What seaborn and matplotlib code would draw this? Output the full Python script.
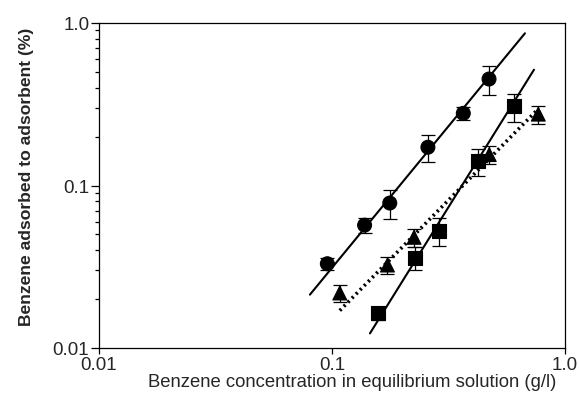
import numpy as np
import pandas as pd
import matplotlib
matplotlib.use("Agg")
import matplotlib.pyplot as plt
import seaborn as sns
from matplotlib.ticker import FixedLocator, FixedFormatter, NullFormatter

# ---- data ----
circle_x = [0.0955, 0.138, 0.177, 0.258, 0.366, 0.472]
circle_y = [0.033, 0.057, 0.078, 0.172, 0.278, 0.452]
circle_err = [0.003, 0.006, 0.016, 0.033, 0.025, 0.09]

square_x = [0.158, 0.2265, 0.289, 0.422, 0.606]
square_y = [0.0164, 0.036, 0.0527, 0.141, 0.307]
square_err = [0.0015, 0.006, 0.010, 0.027, 0.06]

triangle_x = [0.108, 0.173, 0.225, 0.473, 0.768]
triangle_y = [0.0218, 0.0324, 0.048, 0.155, 0.275]
triangle_err = [0.0027, 0.004, 0.006, 0.02, 0.035]

# fitted lines (end points)
circle_fit_x = [0.0804, 0.673]
circle_fit_y = [0.0213, 0.864]
square_fit_x = [0.1455, 0.736]
square_fit_y = [0.0123, 0.516]
triangle_fit_x = [0.108, 0.768]
triangle_fit_y = [0.017, 0.296]

x_ticks = [0.01, 0.1, 1.0]
x_tick_labels = ["0.01", "0.1", "1.0"]
y_ticks = [0.01, 0.1, 1.0]
y_tick_labels = ["0.01", "0.1", "1.0"]

x_label = "Benzene concentration in equilibrium solution (g/l)"
y_label = "Benzene adsorbed to adsorbent (%)"

# ---- build tables ----
pts = pd.concat([
    pd.DataFrame({"x": circle_x, "y": circle_y, "err": circle_err, "series": "circle"}),
    pd.DataFrame({"x": square_x, "y": square_y, "err": square_err, "series": "square"}),
    pd.DataFrame({"x": triangle_x, "y": triangle_y, "err": triangle_err, "series": "triangle"}),
], ignore_index=True)

fits = pd.concat([
    pd.DataFrame({"x": circle_fit_x, "y": circle_fit_y, "series": "circle"}),
    pd.DataFrame({"x": square_fit_x, "y": square_fit_y, "series": "square"}),
    pd.DataFrame({"x": triangle_fit_x, "y": triangle_fit_y, "series": "triangle"}),
], ignore_index=True)

sns.set_style("ticks")
plt.rcParams["font.family"] = ["Liberation Sans", "DejaVu Sans"]

fig = plt.figure(figsize=(5.79, 4.06), dpi=100)
ax = fig.add_axes([99 / 579, 1 - 349 / 406, 466 / 579, 325 / 406])
ax.set_xscale("log")
ax.set_yscale("log")

# fit lines
sns.lineplot(data=fits, x="x", y="y", hue="series", style="series",
             palette={"circle": "black", "square": "black", "triangle": "black"},
             dashes={"circle": "", "square": "", "triangle": (0.6, 1.0)},
             linewidth=1.5, legend=False, ax=ax, zorder=2, estimator=None,
             sort=False)
for ln in ax.get_lines():
    if ln.get_linestyle() not in ("-", "solid"):
        ln.set_linewidth(2.6)
        ln.set_dash_capstyle("butt")

# error bars
ax.errorbar(pts["x"], pts["y"], yerr=pts["err"], fmt="none", ecolor="black",
            elinewidth=0.9, capsize=5, capthick=0.9, zorder=3)

# markers
sns.scatterplot(data=pts, x="x", y="y", style="series",
                markers={"circle": "o", "square": "s", "triangle": "^"},
                color="black", edgecolor="black", s=100, legend=False,
                ax=ax, zorder=4)

ax.set_xlim(0.01, 1.0)
ax.set_ylim(0.01, 1.0)

ax.xaxis.set_major_locator(FixedLocator(x_ticks))
ax.xaxis.set_major_formatter(FixedFormatter(x_tick_labels))
ax.xaxis.set_minor_locator(FixedLocator([]))
ax.yaxis.set_major_locator(FixedLocator(y_ticks))
ax.yaxis.set_major_formatter(FixedFormatter(y_tick_labels))
y_minor = [m * d for d in (0.01, 0.1) for m in range(2, 10)]
ax.yaxis.set_minor_locator(FixedLocator(y_minor))
ax.yaxis.set_minor_formatter(NullFormatter())

ax.tick_params(axis="x", which="major", direction="out", length=4,
               width=0.9, color="black", labelsize=13.5, pad=2)
ax.tick_params(axis="y", which="major", direction="out", length=6,
               width=0.9, color="black", labelsize=13.5, pad=1)
ax.tick_params(axis="y", which="minor", direction="out", length=3,
               width=0.9, color="black")

for sp in ax.spines.values():
    sp.set_visible(True)
    sp.set_color("black")
    sp.set_linewidth(0.9)

ax.set_xlabel(x_label, fontsize=13.3)
ax.set_ylabel(y_label, fontsize=12.6, fontweight="bold")
ax.xaxis.set_label_coords((352 - 99) / 466, (349 - 374) / 325)
ax.yaxis.set_label_coords((34 - 99) / 466, (349 - 177) / 325)

fig.savefig("out.png", dpi=100, facecolor="white")
